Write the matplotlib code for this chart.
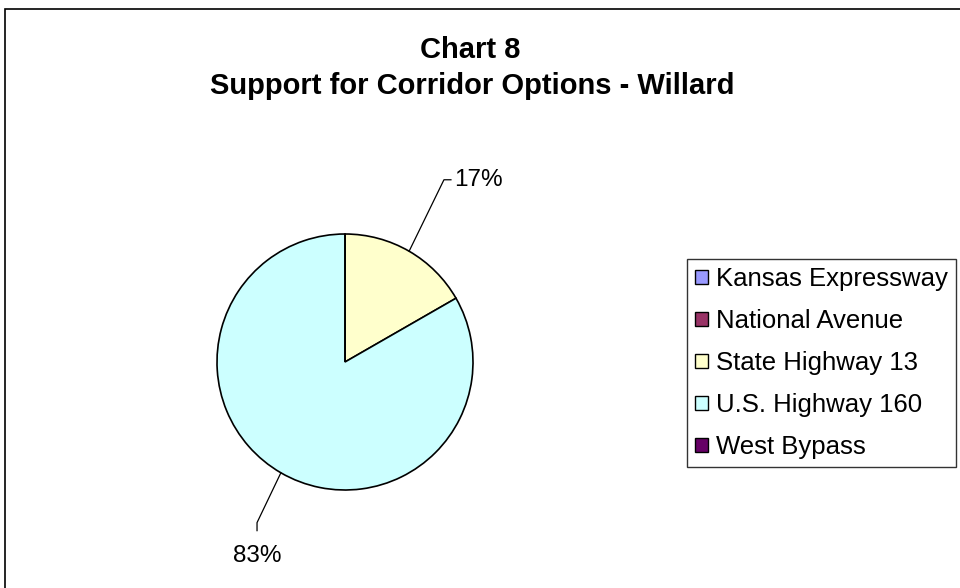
import numpy as np
import matplotlib.pyplot as plt
from matplotlib.patches import Rectangle, Patch

# dati: quota di preferenze per ogni corridoio (Willard)
opzioni = ['Kansas Expressway', 'National Avenue', 'State Highway 13',
           'U.S. Highway 160', 'West Bypass']
quote = [0, 0, 16.7, 83.3, 0]
colori = ['#9999FF', '#993366', '#FFFFCC', '#CCFFFF', '#660066']

fig = plt.figure(figsize=(9.6, 5.88), dpi=100)
fig.patch.set_facecolor('white')

# cornice esterna stile excel
fig.patches.append(Rectangle((5 / 960, -0.05), 1.0, 1 - 9 / 588 + 0.05,
                             transform=fig.transFigure, fill=False,
                             edgecolor='black', linewidth=1.2))

fig.text(470 / 960, 1 - 50 / 588, 'Chart 8', ha='center', va='center',
         fontsize=21, fontweight='bold', family='Liberation Sans')
fig.text(472 / 960, 1 - 86 / 588, 'Support for Corridor Options - Willard',
         ha='center', va='center', fontsize=21, fontweight='bold',
         family='Liberation Sans')

# assi in pixel, y verso l'alto
ax = fig.add_axes([0, 0, 1, 1])

cx, cy, R = 345, 588 - 362, 128
wedges, _ = ax.pie(quote, colors=colori, startangle=90, counterclock=False,
                   center=(cx, cy), radius=R, frame=True,
                   wedgeprops=dict(edgecolor='black', linewidth=1.2))
ax.set_xlim(0, 960)
ax.set_ylim(0, 588)
ax.set_aspect('equal')
ax.axis('off')

# etichette percentuali con linee guida
for w, q in zip(wedges, quote):
    if q == 0:
        continue
    ang = np.deg2rad((w.theta1 + w.theta2) / 2)
    x0, y0 = cx + R * np.cos(ang), cy + R * np.sin(ang)
    txt = '%d%%' % round(q)
    if np.sin(ang) > 0:
        # etichetta in alto a destra
        a1 = np.deg2rad(61.5)
        x1, y1 = cx + 1.62 * R * np.cos(a1), cy + 1.62 * R * np.sin(a1)
        ax.plot([x0, x1, x1 + 7], [y0, y1, y1], color='black', lw=0.9)
        ax.text(x1 + 10, y1, txt, ha='left', va='center', fontsize=17.5,
                family='Liberation Sans')
    else:
        x1, y1 = cx + 1.45 * R * np.cos(ang), cy + 1.45 * R * np.sin(ang)
        x1 = x1 + 5
        ax.plot([x0, x1, x1], [y0, y1, y1 - 8], color='black', lw=0.9)
        ax.text(x1, y1 - 33, txt, ha='center', va='center', fontsize=17.5,
                family='Liberation Sans')

maniglie = [Patch(facecolor=c, edgecolor='black', linewidth=1.0) for c in colori]
leg = fig.legend(maniglie, opzioni, loc='upper left',
                 bbox_to_anchor=(687 / 960, 1 - 259 / 588),
                 frameon=True, fancybox=False, edgecolor='black',
                 prop={'family': 'Liberation Sans', 'size': 18.5},
                 handlelength=0.5, handleheight=0.5, handletextpad=0.3,
                 labelspacing=0.7, borderpad=0.32, borderaxespad=0)
leg.get_frame().set_linewidth(1.0)

plt.savefig('out.png', dpi=100, facecolor='white')
